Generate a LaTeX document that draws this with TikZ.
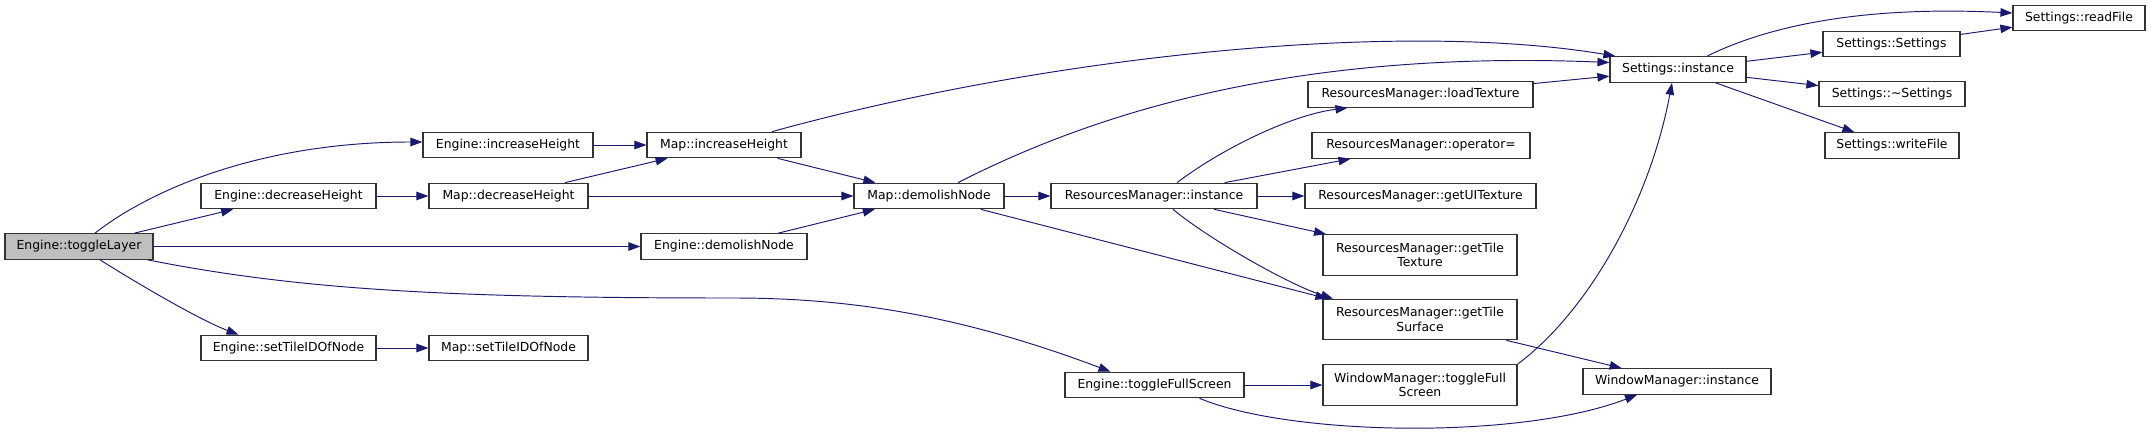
\documentclass[tikz,border=0pt]{standalone}
\usepackage{fontspec}
\setmainfont{DejaVu Sans}
\usepackage{tikz}
\usetikzlibrary{arrows.meta}
\definecolor{callblue}{RGB}{25,25,112}
\definecolor{startgray}{RGB}{191,191,191}

\begin{document}
\begin{tikzpicture}[x=1pt,y=-1pt,
  fn/.style={draw=black!80,line width=1.2pt,fill=white,inner sep=0pt,minimum height=25.5pt,
    align=center,font=\fontsize{12.4}{14.5}\selectfont},
  fn2/.style={fn,minimum width=194pt,minimum height=40.5pt},
  call/.style={draw=callblue,line width=0.95pt,-{Triangle[length=12pt,width=8.5pt]}}]
  \useasboundingbox (0,0) rectangle (2151,433);
  \node[fn,fill=startgray,minimum width=148pt] (tl) at (79,246.5) {Engine::toggleLayer};
  \node[fn,minimum width=170pt] (incE) at (508,145) {Engine::increaseHeight};
  \node[fn,minimum width=175pt] (decE) at (288.5,196) {Engine::decreaseHeight};
  \node[fn,minimum width=166pt] (demE) at (724,246.5) {Engine::demolishNode};
  \node[fn,minimum width=175pt] (setE) at (288.5,348) {Engine::setTileIDOfNode};
  \node[fn,minimum width=179pt] (tfs) at (1154.5,385) {Engine::toggleFullScreen};
  \node[fn,minimum width=154pt] (mapInc) at (724,145) {Map::increaseHeight};
  \node[fn,minimum width=159pt] (mapDec) at (508.5,196) {Map::decreaseHeight};
  \node[fn,minimum width=159pt] (mapSet) at (508.5,348) {Map::setTileIDOfNode};
  \node[fn,minimum width=150pt] (mapDem) at (929,196) {Map::demolishNode};
  \node[fn,minimum width=206pt] (rmInst) at (1154,196) {ResourcesManager::instance};
  \node[fn,minimum width=225pt] (rmLoad) at (1420.5,94.5) {ResourcesManager::loadTexture};
  \node[fn,minimum width=218pt] (rmOp) at (1421,145.5) {ResourcesManager::operator=};
  \node[fn,minimum width=231pt] (rmUI) at (1420.5,196) {ResourcesManager::getUITexture};
  \node[fn2] (rmTex) at (1420,255) {ResourcesManager::getTile\\Texture};
  \node[fn2] (rmSurf) at (1420,319.5) {ResourcesManager::getTile\\Surface};
  \node[fn2] (wmTfs) at (1420,385) {WindowManager::toggleFull\\Screen};
  \node[fn,minimum width=188pt] (wmInst) at (1677,381.5) {WindowManager::instance};
  \node[fn,minimum width=136pt] (setInst) at (1678,69.5) {Settings::instance};
  \node[fn,minimum width=137pt] (setSet) at (1891.5,44) {Settings::Settings};
  \node[fn,minimum width=132pt] (readFile) at (2079,18) {Settings::readFile};
  \node[fn,minimum width=146pt] (setDel) at (1892,94) {Settings::\textasciitilde Settings};
  \node[fn,minimum width=134pt] (writeFile) at (1892,145.5) {Settings::writeFile};

  \foreach \a/\b in {tl/decE,tl/demE,incE/mapInc,decE/mapDec,setE/mapSet,mapDec/mapInc,
      mapDec/mapDem,demE/mapDem,mapInc/mapDem,mapDem/rmInst,rmInst/rmOp,rmInst/rmUI,
      rmInst/rmTex,rmLoad/setInst,tfs/wmTfs,rmSurf/wmInst,setInst/setSet,setSet/readFile,
      setInst/setDel,setInst/writeFile}
    \draw[call] (\a) -- (\b);
  \draw[call] (mapDem) -- ([xshift=5pt]rmSurf.north west);

  \draw[call] ([xshift=16pt]tl.north) .. controls (150,190) and (260,142) .. ([yshift=3pt]incE.west);
  \draw[call] ([xshift=21pt]tl.south) .. controls (140,285) and (200,320) .. ([xshift=-50pt]setE.north);
  \draw[call] ([xshift=-6pt]tl.south east) .. controls (300,290) and (450,298) .. (733,298)
    .. controls (850,298) and (960,315) .. ([xshift=-44pt]tfs.north);
  \draw[call] ([xshift=48pt]mapInc.north) .. controls (1050,55) and (1400,20) .. ([xshift=6pt]setInst.north west);
  \draw[call] ([xshift=29pt]mapDem.north) .. controls (1100,110) and (1300,50) .. ([yshift=7pt]setInst.west);
  \draw[call] ([xshift=23pt]rmInst.north) .. controls (1220,150) and (1290,115) .. ([xshift=-73pt]rmLoad.south);
  \draw[call] ([xshift=19pt]rmInst.south) .. controls (1210,240) and (1290,285) .. ([xshift=-87pt]rmSurf.north);
  \draw[call] ([xshift=45pt]tfs.south) .. controls (1290,436) and (1520,440) .. ([xshift=-40pt]wmInst.south);
  \draw[call] (wmTfs.north east) .. controls (1590,310) and (1650,200) .. ([xshift=-6pt]setInst.south);
  \draw[call] ([xshift=29pt]setInst.north) .. controls (1760,30) and (1850,5) .. ([yshift=5pt]readFile.west);
\end{tikzpicture}
\end{document}
